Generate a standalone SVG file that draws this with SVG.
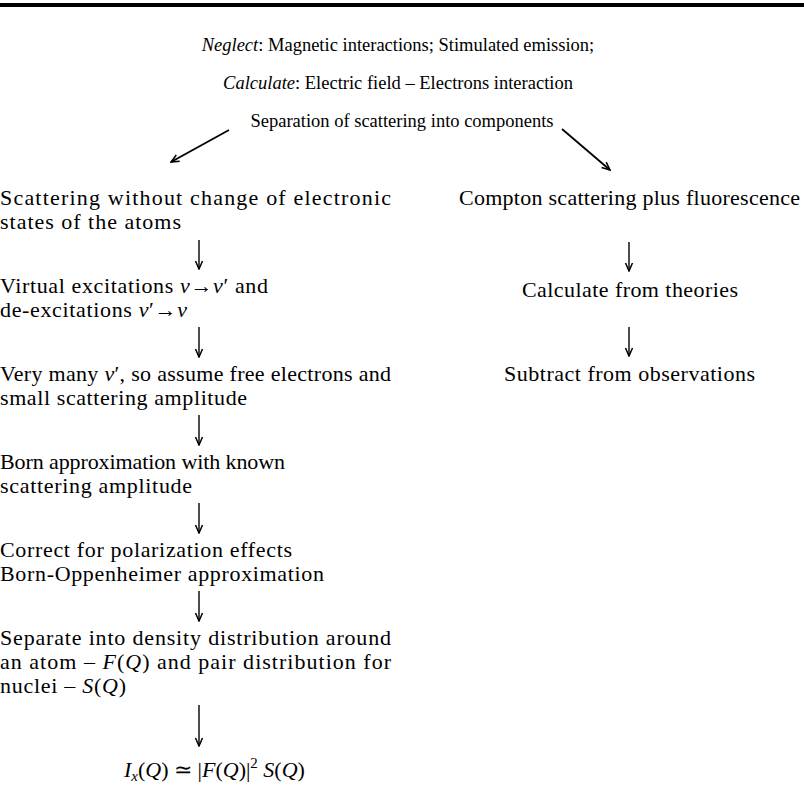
<svg xmlns="http://www.w3.org/2000/svg" width="804" height="809" viewBox="0 0 804 809" font-family="'Liberation Serif', 'Times New Roman', Times, serif">
<defs>
<style>
text{font-family:"Liberation Serif","Times New Roman",Times,serif;fill:#000}
.top{font-size:18.5px;text-anchor:middle}
.b{font-size:22px}
.i{font-style:italic}
.c{stroke:#000;stroke-width:1.8;fill:none}
.d{stroke:#000;stroke-width:1.4;fill:none}
</style>
<marker id="ah" viewBox="0 0 10 10" refX="9" refY="5" markerWidth="10" markerHeight="10" markerUnits="userSpaceOnUse" orient="auto">
<path d="M1,1.5 L9,5 L1,8.5" fill="none" stroke="#000" stroke-width="1.5"/>
</marker>
</defs>
<rect x="0" y="3" width="804" height="4" fill="#000"/>
<g id="header">
<text class="top" x="398" y="51"><tspan class="i">Neglect</tspan>: Magnetic interactions; Stimulated emission;</text>
<text class="top" x="398" y="89"><tspan class="i">Calculate</tspan>: Electric field – Electrons interaction</text>
<text class="top" x="402" y="127" font-size="18">Separation of scattering into components</text>
</g>
<g id="n1"><text class="b" x="0" y="205" textLength="391" lengthAdjust="spacing">Scattering without change of electronic</text>
<text class="b" x="0" y="229" textLength="181" lengthAdjust="spacing">states of the atoms</text></g>
<g id="n2"><text class="b" x="0" y="293" textLength="268" lengthAdjust="spacing">Virtual excitations <tspan class="i">ν</tspan>→<tspan class="i">ν</tspan>′ and</text>
<text class="b" x="0" y="317" textLength="187" lengthAdjust="spacing">de-excitations <tspan class="i">ν</tspan>′→<tspan class="i">ν</tspan></text></g>
<g id="n3"><text class="b" x="0" y="381" textLength="391" lengthAdjust="spacing">Very many <tspan class="i">ν</tspan>′, so assume free electrons and</text>
<text class="b" x="0" y="405" textLength="247" lengthAdjust="spacing">small scattering amplitude</text></g>
<g id="n4"><text class="b" x="0" y="469" textLength="285" lengthAdjust="spacing">Born approximation with known</text>
<text class="b" x="0" y="493" textLength="192" lengthAdjust="spacing">scattering amplitude</text></g>
<g id="n5"><text class="b" x="0" y="557" textLength="292" lengthAdjust="spacing">Correct for polarization effects</text>
<text class="b" x="0" y="581" textLength="324" lengthAdjust="spacing">Born-Oppenheimer approximation</text></g>
<g id="n6"><text class="b" x="0" y="645" textLength="391" lengthAdjust="spacing">Separate into density distribution around</text>
<text class="b" x="0" y="669" textLength="391" lengthAdjust="spacing">an atom – <tspan class="i">F</tspan>(<tspan class="i">Q</tspan>) and pair distribution for</text>
<text class="b" x="0" y="693" textLength="126" lengthAdjust="spacing">nuclei – <tspan class="i">S</tspan>(<tspan class="i">Q</tspan>)</text></g>
<g id="n7"><text class="b" x="124" y="777"><tspan class="i">I</tspan><tspan class="i" font-size="15" dy="4">x</tspan><tspan dy="-4">(</tspan><tspan class="i">Q</tspan>) ≃ |<tspan class="i">F</tspan>(<tspan class="i">Q</tspan>)|<tspan font-size="15" dy="-9">2</tspan><tspan dy="9"> </tspan><tspan class="i">S</tspan>(<tspan class="i">Q</tspan>)</text></g>
<g id="r1"><text class="b" x="459" y="205" textLength="341" lengthAdjust="spacing">Compton scattering plus fluorescence</text></g>
<g id="r2"><text class="b" x="522" y="297" textLength="216" lengthAdjust="spacing">Calculate from theories</text></g>
<g id="r3"><text class="b" x="504" y="381" textLength="251" lengthAdjust="spacing">Subtract from observations</text></g>
<g id="connectors">
<line class="c" x1="229" y1="130" x2="171" y2="162" marker-end="url(#ah)"/>
<line class="c" x1="562" y1="129" x2="610" y2="170" marker-end="url(#ah)"/>
<line class="d" x1="199" y1="240" x2="199" y2="269" marker-end="url(#ah)"/>
<line class="d" x1="199" y1="327" x2="199" y2="357" marker-end="url(#ah)"/>
<line class="d" x1="199" y1="415" x2="199" y2="445" marker-end="url(#ah)"/>
<line class="d" x1="199" y1="503" x2="199" y2="533" marker-end="url(#ah)"/>
<line class="d" x1="199" y1="591" x2="199" y2="621" marker-end="url(#ah)"/>
<line class="d" x1="199" y1="705" x2="199" y2="746" marker-end="url(#ah)"/>
<line class="d" x1="629" y1="242" x2="629" y2="271" marker-end="url(#ah)"/>
<line class="d" x1="629" y1="327" x2="629" y2="356" marker-end="url(#ah)"/>
</g>
</svg>
